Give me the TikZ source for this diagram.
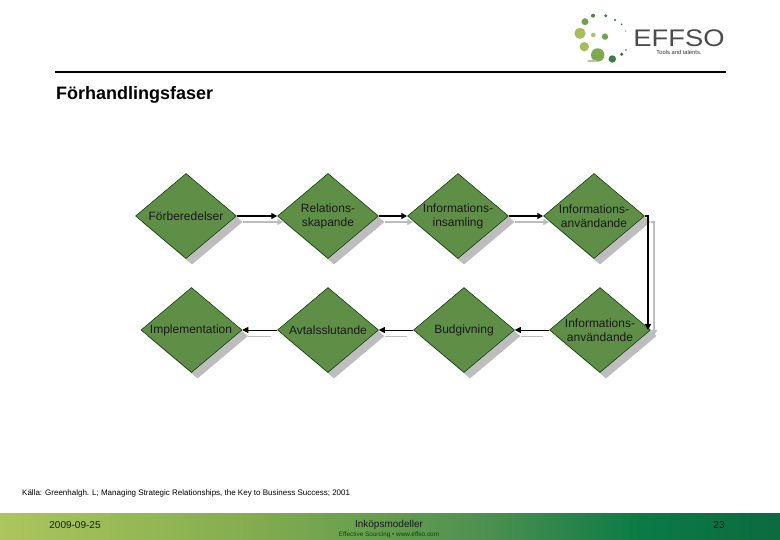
\documentclass[tikz,border=0pt]{standalone}
\usepackage{fontspec}
\setmainfont{Liberation Sans}
\usetikzlibrary{shapes.geometric,arrows.meta}
\definecolor{diafill}{HTML}{5F8F47}
\definecolor{shadowgray}{HTML}{BDBDBD}
\definecolor{fa}{HTML}{ABC65C}
\definecolor{fb}{HTML}{83AD4E}
\definecolor{fc}{HTML}{4F9150}
\definecolor{fd}{HTML}{0B7B46}
\definecolor{fe}{HTML}{0C6B3F}
\definecolor{la}{RGB}{165,190,90}
\definecolor{lb}{RGB}{170,195,110}
\definecolor{lc}{RGB}{110,160,80}
\definecolor{ld}{RGB}{125,170,80}
\definecolor{le}{RGB}{60,125,70}
\definecolor{lf}{RGB}{40,105,70}
\tikzset{
  x=1pt,y=-1pt,
  dia/.style={diamond,draw=black!80!green,line width=0.5pt,fill=diafill,minimum width=101pt,minimum height=85pt,inner sep=0pt},
  shad/.style={diamond,fill=shadowgray,minimum width=101pt,minimum height=85pt,inner sep=0pt},
  lab/.style={font=\fontsize{12}{14}\selectfont,align=center,inner sep=0pt,text=black!90},
  conn/.style={line width=1.5pt,black,-{Triangle[length=6pt,width=6pt]}},
  connthin/.style={line width=0.9pt,black,-{Triangle[length=6pt,width=6pt]}},
  sconn/.style={line width=1.4pt,shadowgray,-{Triangle[length=6pt,width=6pt]}},
  sconnthin/.style={line width=0.9pt,shadowgray,shorten <=12pt},
  foot/.style={font=\fontsize{10}{12}\selectfont,inner sep=0pt,text=black!90},
}
\begin{document}
\begin{tikzpicture}
\useasboundingbox (0,0) rectangle (780,540);
\fill[white] (0,0) rectangle (780,540);
% footer band
\shade[left color=fa,right color=fb,draw=none] (0,513) rectangle (250,540);
\shade[left color=fb,right color=fc,draw=none] (249.5,513) rectangle (480,540);
\shade[left color=fc,right color=fd,draw=none] (479.5,513) rectangle (640,540);
\shade[left color=fd,right color=fe,draw=none] (639.5,513) rectangle (780,540);
% rule
\draw[line width=2pt,black] (55,72) -- (726,72);
% logo
\fill[lc] (585,21.7) circle (3.5);
\fill[lc!80!black] (593,15.7) circle (2);
\fill[le] (605.7,15.7) circle (1.6);
\fill[lf] (615,20) circle (1.2);
\fill[black!70] (621.7,24.3) circle (.8);
\fill[black!60] (625.7,31) circle (.6);
\fill[la] (580,33.3) circle (5.6);
\fill[lb] (593.3,35) circle (2.3);
\fill[lc] (605,36.7) circle (3.1);
\fill[la] (584.3,46.7) circle (4.7);
\fill[ld] (597.7,55) circle (6.7);
\fill[le] (612.3,59) circle (3.7);
\fill[lf] (621.7,54.3) circle (1.6);
\fill[lf] (626,50) circle (.9);
\fill[black!25] (592,61) ellipse (5 and 1.3);
% logo text
\node[inner sep=0pt,font=\fontsize{24}{24}\selectfont,text=black!70,xscale=1.14] (logo) at (679,38) {EFFSO};
\node[inner sep=0pt,font=\fontsize{5.8}{6}\selectfont,text=black!80] (tag) at (679,52.5) {Tools and talents.};
% title
\node[anchor=west,inner sep=0pt,font=\fontsize{18}{20}\selectfont\bfseries] (title) at (56,95) {Förhandlingsfaser};
% shadows
\node[shad] (s1) at (192,222) {};
\node[shad] (s2) at (334,222) {};
\node[shad] (s3) at (464,222) {};
\node[shad] (s4) at (600,222) {};
\node[shad] (s5) at (197.5,336) {};
\node[shad] (s6) at (334,336) {};
\node[shad] (s7) at (470,336) {};
\node[shad] (s8) at (606,336) {};
\coordinate (sc) at (654,336);
\draw[sconn] (s1.east) -- (s2.west);
\draw[sconn] (s2.east) -- (s3.west);
\draw[sconn] (s3.east) -- (s4.west);
\draw[sconn] (s4.east) -| (sc);
\draw[sconnthin] (s8.west) -- (s7.east);
\draw[sconnthin] (s7.west) -- (s6.east);
\draw[sconnthin] (s6.west) -- (s5.east);
% diamonds
\node[dia] (d1) at (186,216) {};
\node[dia] (d2) at (328,216) {};
\node[dia] (d3) at (458,216) {};
\node[dia] (d4) at (594,216) {};
\node[dia] (d5) at (191.5,330) {};
\node[dia] (d6) at (328,330) {};
\node[dia] (d7) at (464,330) {};
\node[dia] (d8) at (600,330) {};
\coordinate (dc) at (648,330);
\draw[conn] (d1.east) -- (d2.west);
\draw[conn] (d2.east) -- (d3.west);
\draw[conn] (d3.east) -- (d4.west);
\draw[conn] (d4.east) -| (dc);
\draw[connthin] (d8.west) -- (d7.east);
\draw[connthin] (d7.west) -- (d6.east);
\draw[connthin] (d6.west) -- (d5.east);
% labels
\node[lab] (l1) at (186,216) {Förberedelser};
\node[lab] (l2) at (328,216) {Relations-\\skapande};
\node[lab] (l3) at (458,216) {Informations-\\insamling};
\node[lab] (l4) at (594,216) {Informations-\\användande};
\node[lab] (l5) at (191,330) {Implementation};
\node[lab] (l6) at (328,330) {Avtalsslutande};
\node[lab] (l7) at (464,330) {Budgivning};
\node[lab] (l8) at (600,330) {Informations-\\användande};
% source and footer
\node[anchor=west,inner sep=0pt,font=\fontsize{8}{10}\selectfont] (src) at (22,493) {Källa: Greenhalgh. L; Managing Strategic Relationships, the Key to Business Success; 2001};
\node[foot] (date) at (75,525) {2009-09-25};
\node[foot] (topic) at (389,525) {Inköpsmodeller};
\node[inner sep=0pt,font=\fontsize{6.4}{7}\selectfont,text=black!70!green] (web) at (389,535) {Effective Sourcing • www.effso.com};
\node[foot] (page) at (719,525) {23};
\end{tikzpicture}
\end{document}
